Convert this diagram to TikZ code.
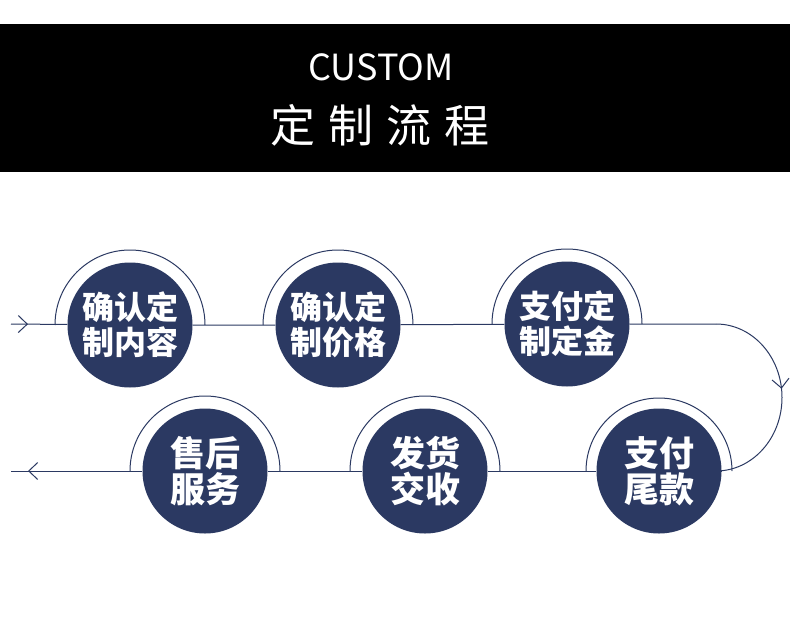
\documentclass[tikz,border=0pt]{standalone}
\usepackage{fontspec}
\setmainfont{Noto Sans CJK SC}
\usetikzlibrary{arrows.meta,decorations.markings,backgrounds}
\definecolor{navy}{RGB}{43,57,98}
\begin{document}
\begin{tikzpicture}[x=1pt,y=-1pt,
  stepcircle/.style={circle, fill=navy, minimum size=125pt, inner sep=0pt,
    text=white, align=center, font=\bfseries\fontsize{32}{35}\selectfont},
  bigtext/.style={font=\bfseries\fontsize{35}{36}\selectfont},
  ringline/.style={draw=navy, line width=1pt},
  flow/.style={draw=navy, line width=1pt},
  barb/.style={postaction={decorate}, decoration={markings,
    mark=at position #1 with {\arrow{Straight Barb[length=9pt,width=17pt,line width=1pt]}}}}
]
\useasboundingbox (0,0) rectangle (790,616);
\node[text=white, font=\fontsize{36}{40}\selectfont] (title) at (381,67) {CUSTOM};
\node[text=white, font=\fontsize{45}{50}\selectfont] (subtitle) at (380,125) {定\hspace{13pt}制\hspace{13pt}流\hspace{13pt}程};

% steps
\node[stepcircle] (c1) at (130,325) {确认定\\制内容};
\node[stepcircle] (c2) at (338,325) {确认定\\制价格};
\node[stepcircle] (c3) at (567,324) {支付定\\制定金};
\node[stepcircle, bigtext] (c4) at (659,471) {支付\\尾款};
\node[stepcircle, bigtext] (c5) at (425,471) {发货\\交收};
\node[stepcircle, bigtext] (c6) at (205,471) {售后\\服务};

% rings
\foreach \n in {c1,c2,c3,c5,c6}{
  \draw[ringline] ([xshift=75pt]\n.center) arc[start angle=0, end angle=-180, radius=75];
}
\draw[ringline] ([xshift=73pt]c4.center) arc[start angle=0, end angle=-180, radius=73];

% connectors
\coordinate (startT) at (11,324);
\coordinate (curveT) at (716,324);
\coordinate (curveB) at (716,471);
\coordinate (endB) at (11,471);
\begin{scope}[on background layer]
  \fill[white] (0,0) rectangle (790,616);
  \fill[black] (0,24) rectangle (790,172);
  \draw[flow, barb=17pt] (startT) -- (c1);
  \draw[flow] (c1) -- (c2) -- (c3) -- (curveT);
  \draw[flow, barb=0.46] (curveT) arc[start angle=-90, end angle=90, x radius=66, y radius=73.5];
  \draw[flow, barb=-17pt] (curveB) -- (c4) -- (c5) -- (c6) -- (endB);
\end{scope}
\end{tikzpicture}
\end{document}
